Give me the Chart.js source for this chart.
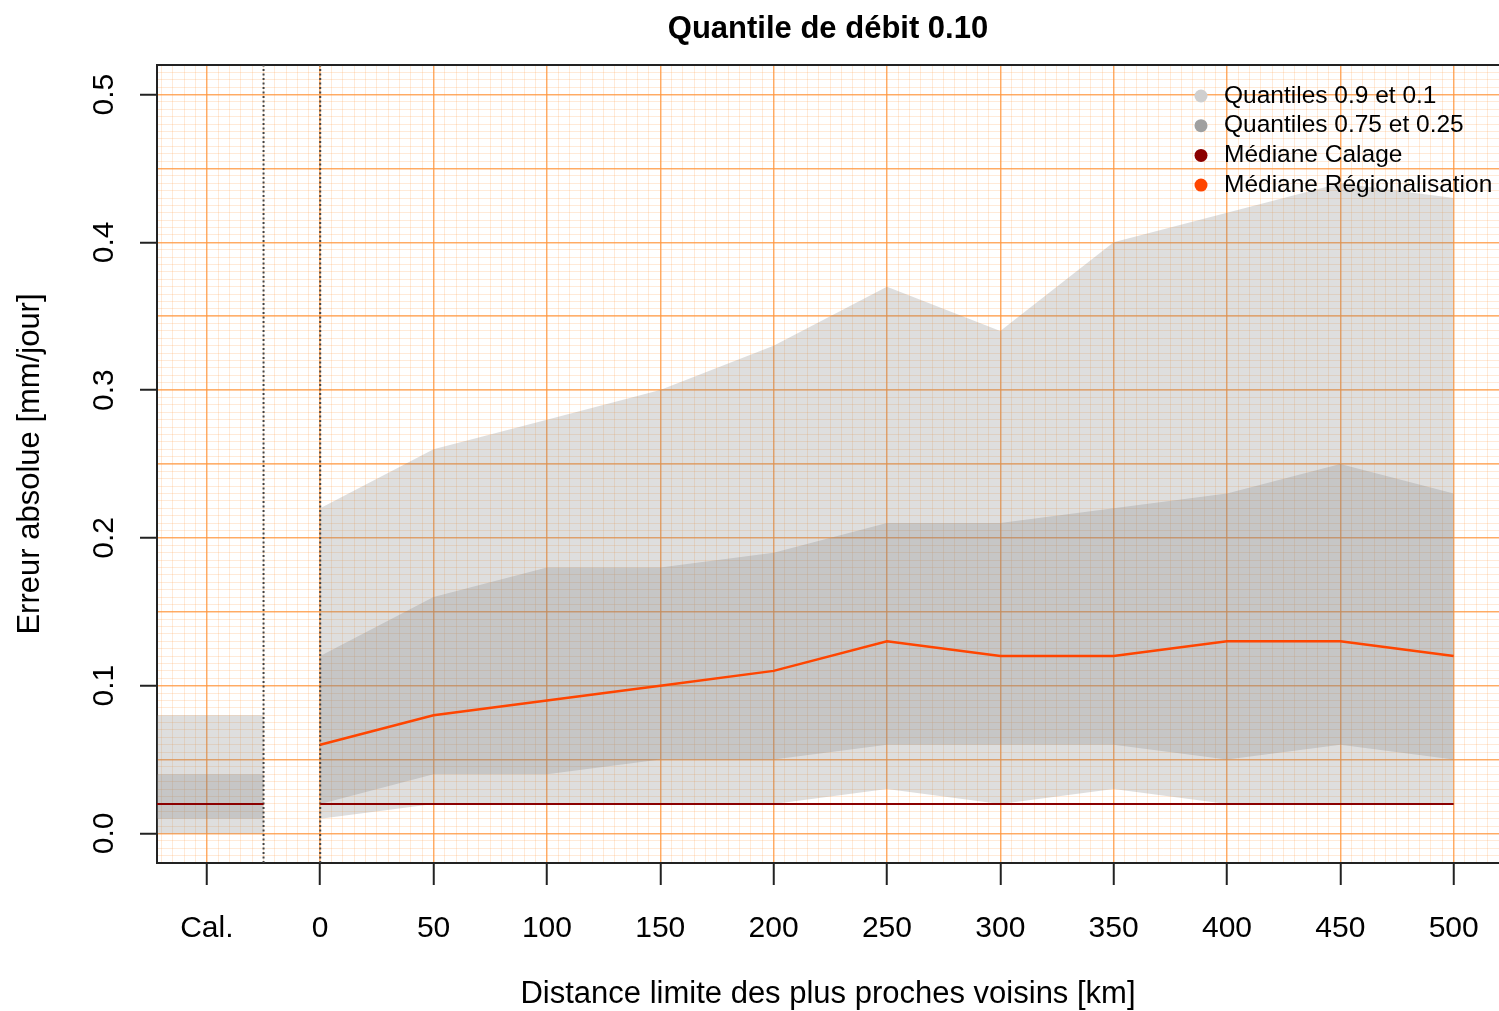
<!DOCTYPE html>
<html>
<head>
<meta charset="utf-8">
<script src="https://cdn.jsdelivr.net/npm/chart.js@4"></script>
<style>
  body { margin: 0; background: #fff; }
</style>
</head>
<body>
<canvas id="chart" width="1499" height="1011"></canvas>
<script>
// data
const distances = [0, 50, 100, 150, 200, 250, 300, 350, 400, 450, 500];
const q90 = [0.22, 0.26, 0.28, 0.30, 0.33, 0.37, 0.34, 0.40, 0.42, 0.44, 0.43];
const q75 = [0.12, 0.16, 0.18, 0.18, 0.19, 0.21, 0.21, 0.22, 0.23, 0.25, 0.23];
const q25 = [0.02, 0.04, 0.04, 0.05, 0.05, 0.06, 0.06, 0.06, 0.05, 0.06, 0.05];
const q10 = [0.01, 0.02, 0.02, 0.02, 0.02, 0.03, 0.02, 0.03, 0.02, 0.02, 0.02];
const medianReg = [0.06, 0.08, 0.09, 0.10, 0.11, 0.13, 0.12, 0.12, 0.13, 0.13, 0.12];
const medianCal = [0.02, 0.02, 0.02, 0.02, 0.02, 0.02, 0.02, 0.02, 0.02, 0.02, 0.02];

// calibration block ("Cal.") left of the first dotted line
const calX = [-80, -25];
const calQ90 = [0.08, 0.08];
const calQ75 = [0.04, 0.04];
const calQ25 = [0.01, 0.01];
const calQ10 = [0.0, 0.0];
const calMedian = [0.02, 0.02];

const separators = [-25, 0];
const calTick = -50;

const xMin = -72, xMax = 520;
const yMin = -0.02, yMax = 0.52;

const legendLabels = ["Quantiles 0.9 et 0.1", "Quantiles 0.75 et 0.25", "Médiane Calage", "Médiane Régionalisation"];
const legendColors = ["#cfcfcf", "#a0a0a0", "#8b0000", "#ff4500"];

const bandColor = "rgba(128,128,128,0.26)";
const majorGrid = "rgba(255,150,60,0.75)";
const minorGrid = "rgba(255,150,60,0.2)";

function pts(xs, ys) {
  return xs.map((x, i) => ({ x: x, y: ys[i] }));
}

function lineSet(data, color, width, extra) {
  return Object.assign({
    data: data,
    borderColor: color,
    borderWidth: width,
    pointRadius: 0,
    fill: false,
    tension: 0
  }, extra || {});
}

const datasets = [
  lineSet(pts(distances, medianReg), "#ff4500", 2.5),
  lineSet(pts(distances, medianCal), "#8b0000", 2),
  lineSet(pts(calX, calMedian), "#8b0000", 2),
];
separators.forEach(function (s) {
  datasets.push(lineSet(pts([s, s], [yMin, yMax]), "#444", 2, { borderDash: [2, 2.5] }));
});

// bands: upper curve fills down to lower curve (absolute dataset index)
function band(xs, upper, lower) {
  const lowerIndex = datasets.length + 1;
  datasets.push(lineSet(pts(xs, upper), "transparent", 0, { fill: { target: lowerIndex }, backgroundColor: bandColor }));
  datasets.push(lineSet(pts(xs, lower), "transparent", 0));
}
band(distances, q75, q25);
band(distances, q90, q10);
band(calX, calQ75, calQ25);
band(calX, calQ90, calQ10);

const isTenth = v => Math.abs(Math.round(v * 10) - v * 10) < 1e-6;

const legendPlugin = {
  id: "innerLegend",
  afterDraw(chart) {
    const ctx = chart.ctx;
    const area = chart.chartArea;
    const x0 = area.right - 298;
    const y0 = area.top + 31;
    ctx.save();
    ctx.font = "24.5px 'Liberation Sans', Arial, sans-serif";
    ctx.textBaseline = "middle";
    legendLabels.forEach(function (label, i) {
      const y = y0 + i * 29.7;
      ctx.fillStyle = legendColors[i];
      ctx.beginPath();
      ctx.arc(x0, y, 6.5, 0, Math.PI * 2);
      ctx.fill();
      ctx.fillStyle = "#000";
      ctx.fillText(label, x0 + 23, y);
    });
    ctx.restore();
  }
};

// keep the plot box fixed: no extra padding for overhanging labels
function noPad(s) {
  s.paddingLeft = 0;
  s.paddingRight = 0;
  s.paddingTop = 0;
  s.paddingBottom = 0;
}

Chart.defaults.font.family = "'Liberation Sans', Arial, sans-serif";
Chart.defaults.color = "#000";

new Chart(document.getElementById("chart"), {
  type: "line",
  data: { datasets: datasets },
  options: {
    responsive: false,
    animation: false,
    layout: { padding: 0 },
    plugins: {
      legend: { display: false },
      tooltip: { enabled: false },
      title: {
        display: true,
        text: "Quantile de débit 0.10",
        fullSize: false,
        font: { size: 31, weight: "bold" },
        padding: { top: 10.5, bottom: 17.3 }
      }
    },
    scales: {
      x: {
        type: "linear",
        min: xMin, max: xMax,
        z: 0,
        afterFit: s => { s.height = 148; noPad(s); },
        ticks: {
          stepSize: 50,
          includeBounds: false,
          padding: 26,
          font: { size: 30 },
          maxRotation: 0,
          autoSkip: false,
          callback: v => v === calTick ? "Cal." : String(v)
        },
        grid: { color: majorGrid, lineWidth: 1.5, tickColor: "#222", tickWidth: 2, tickLength: 22 },
        border: { display: true, color: "#222", width: 2 },
        title: {
          display: true,
          text: "Distance limite des plus proches voisins [km]",
          font: { size: 31 },
          padding: { top: 0, bottom: -2 }
        }
      },
      xm: {
        type: "linear",
        position: "bottom",
        min: xMin, max: xMax,
        z: -1,
        afterFit: s => { s.height = 0; noPad(s); },
        ticks: { display: false, stepSize: 5, includeBounds: false },
        grid: { color: minorGrid, lineWidth: 1, drawTicks: false },
        border: { display: false }
      },
      xt: {
        type: "linear",
        position: "top",
        min: xMin, max: xMax,
        afterFit: s => { s.height = 0; noPad(s); },
        ticks: { display: false },
        grid: { display: false },
        border: { display: true, color: "#222", width: 2 }
      },
      y: {
        type: "linear",
        min: yMin, max: yMax,
        z: 0,
        afterFit: s => { s.width = 157; noPad(s); },
        ticks: {
          stepSize: 0.05,
          includeBounds: false,
          minRotation: 90,
          maxRotation: 90,
          crossAlign: "center",
          padding: 14,
          font: { size: 30 },
          autoSkip: false,
          callback: v => isTenth(v) ? v.toFixed(1) : ""
        },
        grid: {
          color: majorGrid,
          lineWidth: 1.5,
          tickLength: 17,
          tickWidth: 2,
          tickColor: c => isTenth(c.tick.value) ? "#222" : "transparent"
        },
        border: { display: true, color: "#222", width: 2 },
        title: {
          display: true,
          text: "Erreur absolue [mm/jour]",
          font: { size: 31 },
          padding: { top: 12, bottom: 0 }
        }
      },
      ym: {
        type: "linear",
        position: "left",
        min: yMin, max: yMax,
        z: -1,
        afterFit: s => { s.width = 0; noPad(s); },
        ticks: { display: false, stepSize: 0.005, includeBounds: false },
        grid: { color: minorGrid, lineWidth: 1, drawTicks: false },
        border: { display: false }
      }
    }
  },
  plugins: [legendPlugin]
});
</script>
</body>
</html>
